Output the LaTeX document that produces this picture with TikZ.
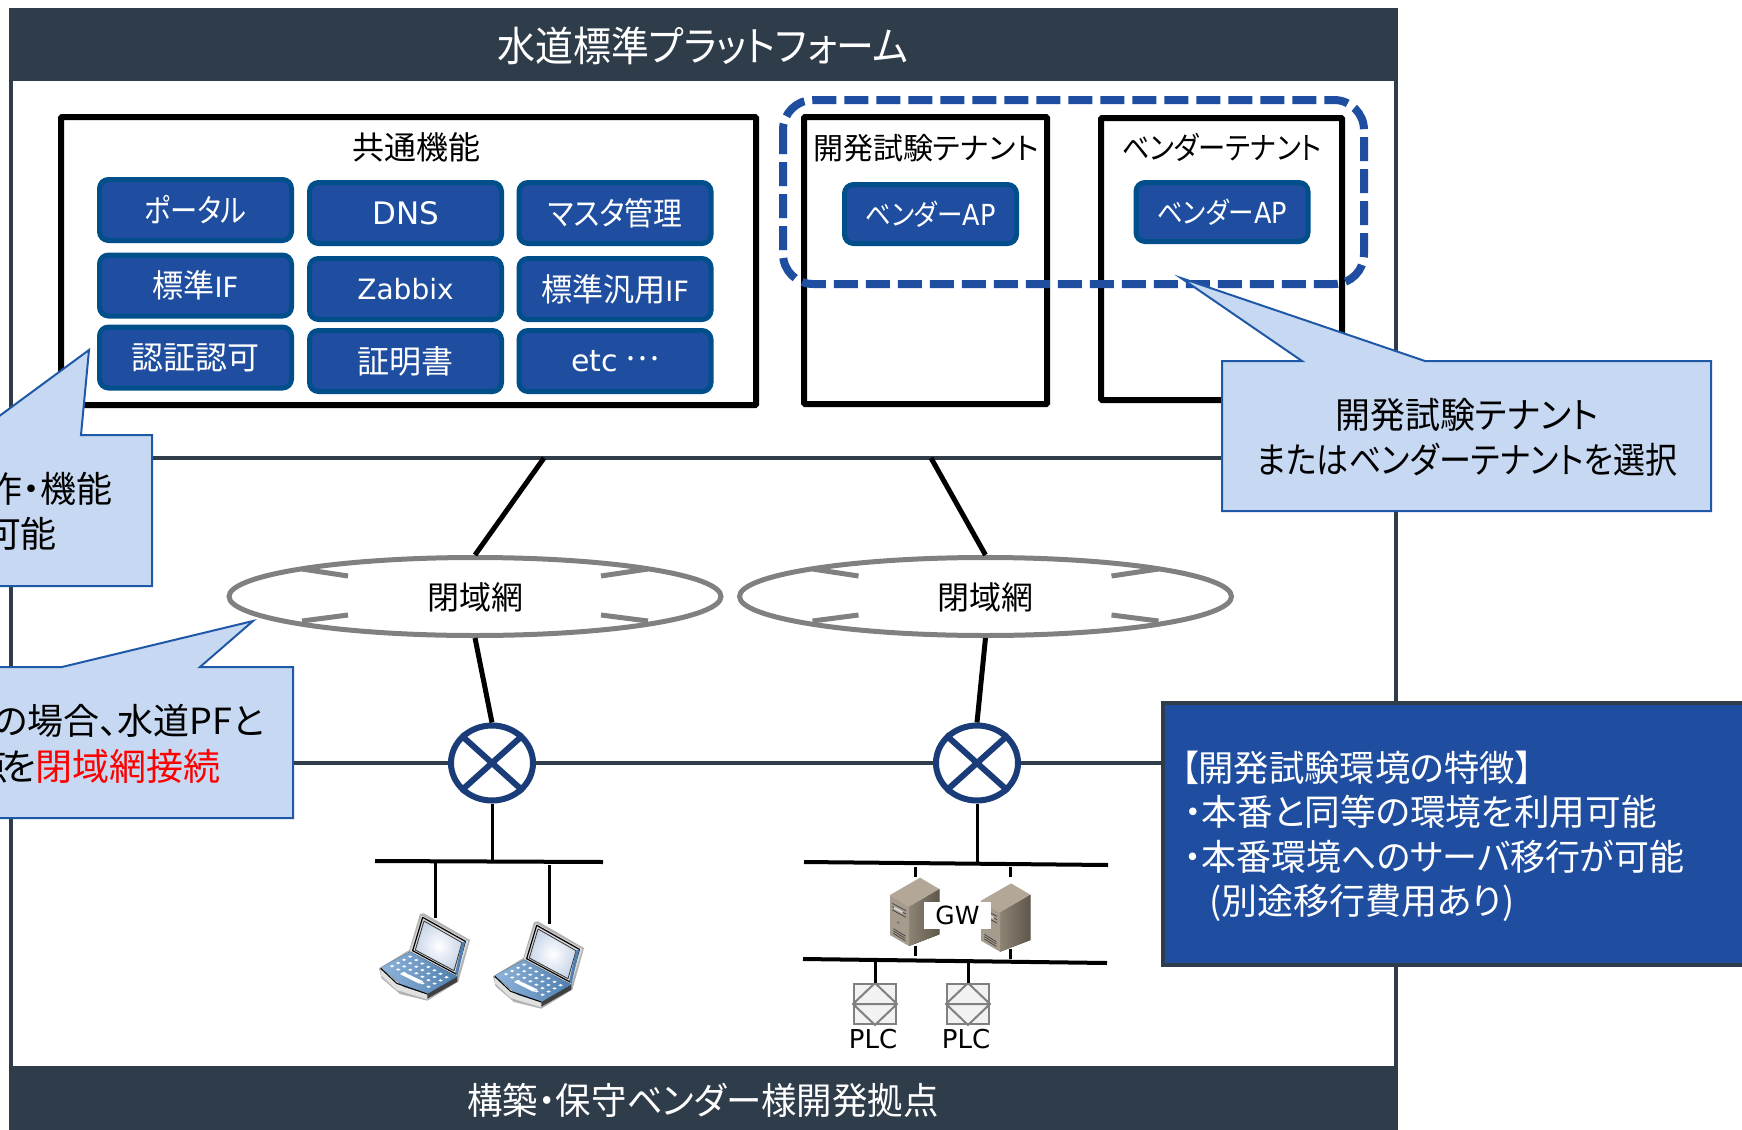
\documentclass[tikz,border=0pt]{standalone}
\usepackage{fontspec}
\usepackage{graphicx}
\setmainfont{Noto Sans CJK JP}[RawFeature={+palt}]
\newfontfamily\lat{DejaVu Sans}
\usetikzlibrary{shapes.geometric}
\definecolor{bar}{HTML}{2F3C4A}
\definecolor{btnfill}{HTML}{1F4EA0}
\definecolor{btnline}{HTML}{004F8A}
\definecolor{callfill}{HTML}{C7D9F2}
\definecolor{callline}{HTML}{2058A8}
\definecolor{router}{HTML}{1A3C78}
\definecolor{cloudgray}{HTML}{808080}
\definecolor{srvtop}{HTML}{B3A898}
\definecolor{srvfront}{HTML}{A69C8D}
\definecolor{srvsa}{HTML}{8E8475}
\definecolor{srvsb}{HTML}{5F574B}
\definecolor{kbda}{HTML}{8FB4DA}
\definecolor{kbdb}{HTML}{4F7FB0}
\definecolor{scrn}{HTML}{C9D6E9}
\newcommand\fpx[1]{\fontsize{#1}{#1}\selectfont}
\newcommand\sx[2]{\scalebox{#1}[1]{#2}}
\tikzset{
  txt/.style={inner sep=0,outer sep=0,align=center},
  whitetxt/.style={txt,text=white},
  btn/.style={draw=btnline,fill=btnfill,line width=2.5pt,rounded corners=4.5pt,minimum width=96pt,minimum height=30.5pt,inner sep=0,text=white,font=\fpx{16}},
  apbtn/.style={btn,minimum width=86pt,minimum height=29.5pt,font=\fpx{14.5}},
  blackbox/.style={draw=black,line width=3pt,fill=white,inner sep=0,rounded corners=0.5pt},
  wire/.style={draw=black,line width=2.5pt},
  thinwire/.style={draw=black,line width=1.5pt},
  darkline/.style={draw=bar,line width=2pt},
  cloudnet/.style={ellipse,draw=cloudgray,fill=white,line width=2.5pt,minimum width=246pt,minimum height=39pt,inner sep=0},
  cloudmark/.style={draw=cloudgray,line width=2.5pt},
  routernode/.style={ellipse,draw=router,fill=white,line width=3pt,minimum width=41pt,minimum height=37.5pt,inner sep=0},
  callout/.style={draw=callline,fill=callfill,line width=1pt},
  plcbox/.style={draw=cloudgray,fill=black!5,line width=1pt,minimum width=21pt,minimum height=20pt,inner sep=0},
}
\newcommand\cloudmarks[1]{%
  \begin{scope}[xshift=#1*0.5pt]
    \draw[cloudmark] (302,569)--(348,576);
    \draw[cloudmark] (302,621)--(348,615);
    \draw[cloudmark] (648,569)--(601,576);
    \draw[cloudmark] (648,621)--(601,615);
  \end{scope}}
\newcommand\laptop[2]{%
  \begin{scope}[shift={(#1,#2)},x=0.16667pt,y=-0.16667pt,line join=round]
    \fill[black!30] (87,385)--(178,330)--(210,222)--(222,220)--(360,300)--(325,425)--(232,482)--(150,462)--(95,415)--cycle;
    \fill[black!12] (92,388)--(92,405)--(140,450)--(232,478)--(232,462)--cycle;
    \fill[black!75] (232,462)--(232,476)--(322,425)--(322,408)--cycle;
    \fill[white!85!black] (215,226)--(355,303)--(322,410)--(180,333)--cycle;
    \draw[black,line width=.6pt] (218,232)--(346,304)--(318,402)--(188,332)--cycle;
    \shade[inner color=white,outer color=scrn] (222,243)--(336,308)--(312,392)--(196,330)--cycle;
    \draw[black!80,line width=.4pt] (222,243)--(336,308)--(312,392)--(196,330)--cycle;
    \fill[kbdb] (336,308)--(346,304)--(322,410)--(316,398)--cycle;
    \fill[left color=kbda,right color=kbdb] (92,383)--(180,335)--(322,410)--(232,462)--(160,440)--cycle;
    \draw[black,line width=.5pt] (92,385)--(140,430)--(232,462);
    \foreach \i in {0,...,6}{\foreach \j in {0,...,3}{
      \pgfmathsetmacro\kx{108+(\i+.5)*18.2+(\j+.5)*18}
      \pgfmathsetmacro\ky{378+(\i+.5)*10.3-(\j+.5)*9.5}
      \fill[white] (\kx-6,\ky)--(\kx,\ky-3.5)--(\kx+7,\ky)--(\kx,\ky+3.5)--cycle;
    }}
    \fill[white] (150,402)--(160,396)--(220,424)--(208,431)--cycle;
  \end{scope}}
\newcommand\serverbox[2]{%
  \begin{scope}[shift={(#1,#2)},x=0.16667pt,y=-0.16667pt,line join=round]
    \fill[left color=srvsa,right color=srvsb] (357,200)--(448,147)--(448,283)--(357,318)--cycle;
    \fill[srvtop] (300,165)--(390,113)--(448,147)--(357,200)--cycle;
    \fill[srvfront] (300,165)--(357,200)--(357,318)--(300,285)--cycle;
    \draw[black!75,line width=.35pt] (307,190)--(348,212) (307,200)--(348,222) (307,210)--(348,232);
    \fill[black!15] (312,200)--(338,214)--(338,220)--(312,206)--cycle;
    \draw[black!75,line width=.35pt] (310,266)--(346,288) (310,273)--(346,295) (310,280)--(346,302);
    \fill[black!55] (325,248) circle (4);
  \end{scope}}
\begin{document}
\begin{tikzpicture}[x=0.5pt,y=-0.5pt]
\useasboundingbox (0,0) rectangle (1742,1130);
\fill[white] (0,0) rectangle (1742,1130);
% frame
\draw[darkline] (11,8)--(11,1130) (1396,8)--(1396,1130);
\fill[bar] (10,8) rectangle (1398,81);
\fill[bar] (10,1066) rectangle (1398,1130);
\node[whitetxt,font=\fpx{20.5}] (title) at (703,46) {\sx{0.925}{水道標準プラットフォーム}};
\node[whitetxt,font=\fpx{18.5}] (foot) at (703,1100) {\sx{0.957}{構築・保守ベンダー様開発拠点}};
\draw[darkline] (11,458)--(1396,458);
\draw[darkline] (11,763)--(1396,763);
% common functions
\node[blackbox,minimum width=347.5pt,minimum height=144pt] (fn) at (408.5,261) {};
\node[txt,font=\fpx{16}] (fnt) at (416,147) {共通機能};
\node[btn] (b1) at (195.5,210) {\sx{0.85}{ポータル}};
\node[btn] (b2) at (405.5,213) {\fpx{15.5}\lat DNS};
\node[btn] (b3) at (615,213) {\sx{0.9}{マスタ管理}};
\node[btn] (b4) at (195.5,285.5) {\sx{0.97}{標準{\lat\fpx{14}IF}}};
\node[btn] (b5) at (405.5,289) {\fpx{14}\lat Zabbix};
\node[btn] (b6) at (615,289) {\sx{0.97}{標準汎用{\lat\fpx{14}IF}}};
\node[btn] (b7) at (195.5,357.5) {認証認可};
\node[btn] (b8) at (405.5,361) {証明書};
\node[btn] (b9) at (615,361) {{\lat\fpx{15}etc} \raisebox{.33em}{…}};
% tenants
\node[blackbox,minimum width=121.5pt,minimum height=143.5pt] (t1) at (925.5,260.5) {};
\node[blackbox,minimum width=120.5pt,minimum height=141pt] (t2) at (1221.5,259) {};
\node[txt,font=\fpx{15}] (t1t) at (926,148) {開発試験テナント};
\node[txt,font=\fpx{15.5}] (t2t) at (1222,147) {\sx{0.88}{ベンダーテナント}};
\node[apbtn] (ap1) at (930.5,214) {\sx{0.88}{ベンダー{\lat AP}}};
\node[apbtn] (ap2) at (1222,212) {\sx{0.88}{ベンダー{\lat AP}}};
\draw[draw=btnfill,line width=4pt,dash pattern=on 12pt off 4pt,rounded corners=15pt] (783,100) rectangle (1364,284);
% links
\node[cloudnet] (c1) at (475,596.5) {};
\node[cloudnet] (c2) at (985.5,596.5) {};
\cloudmarks{0}\cloudmarks{510.5}
\node[txt,font=\fpx{16}] (c1t) at (475,597) {閉域網};
\node[txt,font=\fpx{16}] (c2t) at (985.5,597) {閉域網};
\coordinate (up1) at (544,458);
\coordinate (up2) at (931,458);
\draw[wire] (up1)--(c1.north);
\draw[wire] (up2)--(c2.north);
\node[routernode] (r1) at (492,763) {};
\node[routernode] (r2) at (977,763) {};
\draw[router,line width=3pt] (r1.42)--(r1.222) (r1.138)--(r1.318);
\draw[router,line width=3pt] (r2.42)--(r2.222) (r2.138)--(r2.318);
\draw[wire] (c1.south)--(r1.north);
\draw[wire] (c2.south)--(r2.north);
% left site
\coordinate (bus1a) at (375,861);
\coordinate (bus1b) at (603,862);
\coordinate (bus1s) at (492,861.5);
\draw[wire,line width=2pt] (bus1a)--(bus1b);
\draw[thinwire] (r1.south)--(bus1s);
\coordinate (d1a) at (435,861); \coordinate (d1b) at (435,918);
\coordinate (d2a) at (549,865); \coordinate (d2b) at (549,924);
\draw[thinwire] (d1a)--(d1b);
\draw[thinwire] (d2a)--(d2b);
\laptop{350}{840}
\laptop{464}{848}
% right site
\coordinate (bus2a) at (804,862);
\coordinate (bus2b) at (1108,865);
\coordinate (bus2s) at (977,863.5);
\coordinate (bus3a) at (803,959);
\coordinate (bus3b) at (1107,963);
\draw[wire,line width=2pt] (bus2a)--(bus2b);
\draw[wire,line width=2pt] (bus3a)--(bus3b);
\draw[thinwire] (r2.south)--(bus2s);
\draw[thinwire] (915,867)--(915,877) (1010,867)--(1010,877) (915,946)--(915,956) (1010,949)--(1010,959);
\serverbox{790}{840}
\serverbox{881}{845.7}
\node[fill=white,minimum width=33.5pt,minimum height=13.5pt,inner sep=0,text=black,font=\fpx{12.5}\lat] (gw) at (957.5,915) {GW};
\foreach \n/\x in {p1/875,p2/968}{
  \node[plcbox] (\n) at (\x,1004) {};
  \draw[cloudgray,line width=1pt] (\n.north)--(\n.west)--(\n.south)--(\n.east)--cycle (\n.west)--(\n.east);
  \node[txt,font=\fpx{13}\lat] (\n t) at (\x-2,1039) {PLC};
  \draw[thinwire] (\n.north)--(\x,962);
}
% right callout
\draw[callout] (1222,361)--(1302,361)--(1181,278)--(1425,361)--(1711,361)--(1711,511)--(1222,511)--cycle;
\node[txt,font=\fpx{18}] (cr1) at (1467,415) {\sx{0.97}{開発試験テナント}};
\node[txt,font=\fpx{18}] (cr2) at (1467,460) {\sx{0.89}{またはベンダーテナントを選択}};
% left callouts
\draw[callout] (-2,417)--(89,350)--(81,435)--(152,435)--(152,586)--(-2,586)--cycle;
\node[txt,anchor=east,font=\fpx{18}] (cl1) at (113,489) {作・機能};
\node[txt,anchor=east,font=\fpx{18}] (cl2) at (57,534) {可能};
\draw[callout] (-2,667)--(62,667)--(253,621)--(200,667)--(293,667)--(293,818)--(-2,818)--cycle;
\node[txt,anchor=east,font=\fpx{18}] (cm1) at (264,721) {の場合、水道PFと};
\node[txt,anchor=east,font=\fpx{18.5}] (cm2) at (221,766) {点\hspace{-0.18em}を\textcolor{red}{閉域網接続}};
% info box
\draw[draw=bar,fill=btnfill,line width=2pt] (1163,703) rectangle (1745,965);
\node[txt,anchor=west,text=white,font=\fpx{18}] (i1) at (1181,768) {\sx{0.98}{【開発試験環境の特徴】}};
\node[txt,anchor=west,text=white,font=\fpx{18}] (i2) at (1184,812) {\sx{0.99}{・本番と同等の環境を利用可能}};
\node[txt,anchor=west,text=white,font=\fpx{18}] (i3) at (1184,857) {\sx{0.97}{・本番環境へのサーバ移行が可能}};
\node[txt,anchor=west,text=white,font=\fpx{18}] (i4) at (1209,903) {(別途移行費用あり)};
\end{tikzpicture}
\end{document}
